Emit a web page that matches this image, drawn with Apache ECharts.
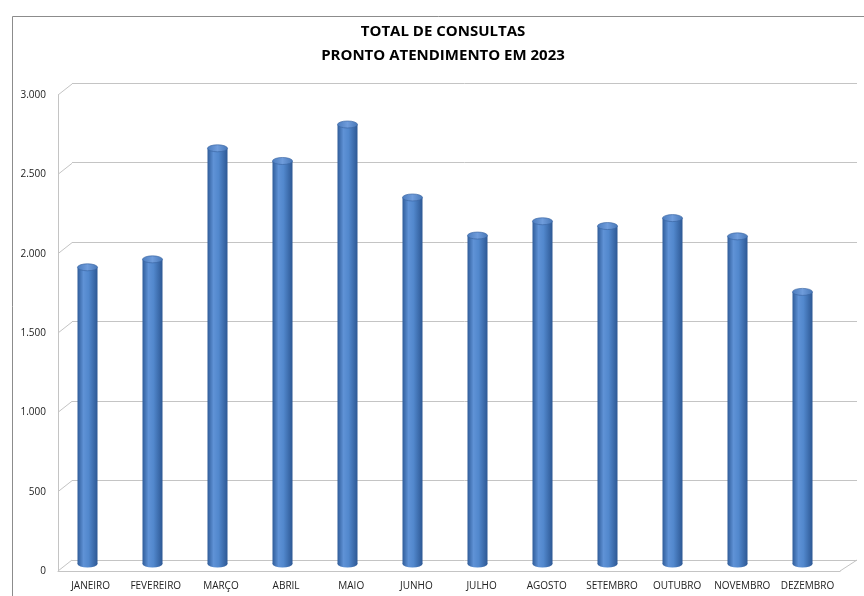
<!DOCTYPE html>
<html>
<head>
<meta charset="utf-8">
<script src="https://cdn.jsdelivr.net/npm/echarts@6/dist/echarts.min.js"></script>
<style>
  html, body { margin: 0; padding: 0; background: #fff; }
  #chart { width: 864px; height: 596px; }
</style>
</head>
<body>
<div id="chart"></div>
<script>
// dados
var months = ['JANEIRO', 'FEVEREIRO', 'MARÇO', 'ABRIL', 'MAIO', 'JUNHO', 'JULHO', 'AGOSTO', 'SETEMBRO', 'OUTUBRO', 'NOVEMBRO', 'DEZEMBRO']
var consultas = [1870, 1920, 2620, 2540, 2770, 2310, 2070, 2160, 2130, 2180, 2065, 1715]
var yTicks = [0, 500, 1000, 1500, 2000, 2500, 3000]

var FONT = "'Liberation Sans Narrow', 'Open Sans', sans-serif"
var GRID_COLOR = '#c4c4c4'
var DEPTH_X = 14
var DEPTH_Y = -11

var chart = echarts.init(document.getElementById('chart'))

function fmtThousands(v) {
  return String(v).replace(/\B(?=(\d{3})+(?!\d))/g, '.')
}

// linhas diagonais da perspectiva (parede esquerda + piso)
function renderDepth(params, api) {
  var v = api.value(0)
  var half = api.size([1, 0])[0] / 2
  var p = api.coord([0, v])
  var x0 = p[0] - half
  var children = [{
    type: 'line',
    shape: { x1: x0, y1: p[1], x2: x0 + DEPTH_X, y2: p[1] + DEPTH_Y },
    style: { stroke: GRID_COLOR, lineWidth: 1 }
  }]
  if (v === 0) {
    var q = api.coord([months.length - 1, 0])
    var x1 = q[0] + half
    children.push({
      type: 'line',
      shape: { x1: x1, y1: q[1], x2: x1 + DEPTH_X + 3, y2: q[1] + DEPTH_Y },
      style: { stroke: GRID_COLOR, lineWidth: 1 }
    })
  }
  return { type: 'group', children: children }
}

// barras cilíndricas
function renderCylinder(params, api) {
  var i = api.value(0)
  var top = api.coord([i, api.value(1)])
  var base = api.coord([i, 0])
  var w = 20
  var r = w / 2
  var sy = 3.5 / r
  var body = new echarts.graphic.LinearGradient(0, 0, 1, 0, [
    { offset: 0, color: '#2f5c99' },
    { offset: 0.3, color: '#5f92d6' },
    { offset: 0.55, color: '#5288cd' },
    { offset: 1, color: '#2d5894' }
  ])
  var cap = new echarts.graphic.LinearGradient(0, 0, 1, 0, [
    { offset: 0, color: '#4a7bbd' },
    { offset: 0.5, color: '#6f9cdb' },
    { offset: 1, color: '#4676b6' }
  ])
  return {
    type: 'group',
    children: [
      { type: 'circle', x: top[0], y: base[1], scaleY: sy, shape: { cx: 0, cy: 0, r: r }, style: { fill: body } },
      { type: 'rect', shape: { x: top[0] - r, y: top[1], width: w, height: base[1] - top[1] }, style: { fill: body } },
      { type: 'circle', x: top[0], y: top[1], scaleY: sy, shape: { cx: 0, cy: 0, r: r }, style: { fill: cap, stroke: '#3a66a3', lineWidth: 1 } }
    ]
  }
}

chart.setOption({
  animation: false,
  backgroundColor: '#fff',
  title: {
    text: 'TOTAL DE CONSULTAS\nPRONTO ATENDIMENTO EM 2023',
    left: 438,
    textAlign: 'center',
    top: 15,
    textStyle: { fontFamily: FONT, fontSize: 15, fontWeight: 'bold', color: '#000', lineHeight: 24 }
  },
  graphic: [{
    type: 'rect',
    left: 10,
    top: 14,
    shape: { width: 870, height: 600 },
    style: { fill: null, stroke: '#8c8c8c', lineWidth: 1 },
    silent: true
  }],
  grid: [
    { left: 58, right: 24, top: 95, bottom: 25 },
    { left: 72, right: 7, top: 83, bottom: 36 },
    { left: 55, right: 29, top: 88, bottom: 32 }
  ],
  xAxis: [
    {
      gridIndex: 0,
      type: 'category',
      data: months,
      axisLine: { lineStyle: { color: GRID_COLOR } },
      axisTick: { show: false },
      axisLabel: { fontFamily: FONT, fontSize: 10, color: '#222', margin: 10, interval: 0 }
    },
    { gridIndex: 1, type: 'category', data: months, show: false },
    { gridIndex: 2, type: 'category', data: months, show: false }
  ],
  yAxis: [
    {
      gridIndex: 0,
      type: 'value',
      min: 0,
      max: 3000,
      interval: 500,
      axisLine: { show: true, lineStyle: { color: GRID_COLOR } },
      axisTick: { show: false },
      splitLine: { show: false },
      axisLabel: { fontFamily: FONT, fontSize: 10, color: '#222', margin: 12, formatter: fmtThousands }
    },
    {
      gridIndex: 1,
      type: 'value',
      min: 0,
      max: 3000,
      interval: 500,
      axisLine: { show: false },
      axisTick: { show: false },
      axisLabel: { show: false },
      splitLine: { lineStyle: { color: GRID_COLOR, width: 1 } }
    },
    { gridIndex: 2, type: 'value', min: 0, max: 3000, show: false }
  ],
  series: [
    {
      type: 'custom',
      xAxisIndex: 0,
      yAxisIndex: 0,
      renderItem: renderDepth,
      data: yTicks.map(function(v) { return [v] }),
      encode: { y: 0 },
      silent: true
    },
    {
      type: 'custom',
      xAxisIndex: 2,
      yAxisIndex: 2,
      renderItem: renderCylinder,
      data: consultas.map(function(v, i) { return [i, v] }),
      encode: { x: 0, y: 1 },
      z: 5
    }
  ]
})
</script>
</body>
</html>
